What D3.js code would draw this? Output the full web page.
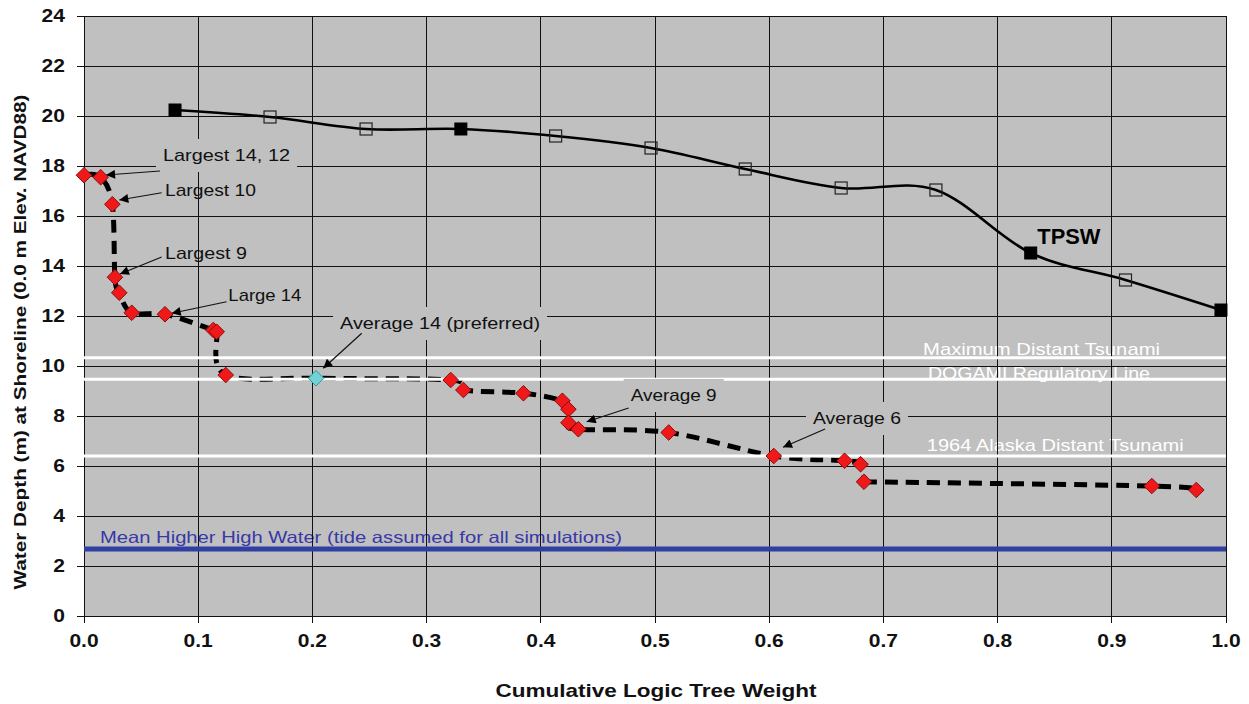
<!DOCTYPE html>
<html><head><meta charset="utf-8">
<script src="https://cdn.jsdelivr.net/npm/d3@7"></script>
<style>
body{margin:0;background:#fff}
svg{display:block}
text{font-family:"Liberation Sans",Arial,Helvetica,sans-serif}
</style>
</head><body>
<svg id="chart" width="1249" height="704"></svg>
<script>
// ---------- data ----------
const xTickValues = [0,0.1,0.2,0.3,0.4,0.5,0.6,0.7,0.8,0.9,1.0];
const xTickLabels = ["0.0","0.1","0.2","0.3","0.4","0.5","0.6","0.7","0.8","0.9","1.0"];
const yTickValues = [0,2,4,6,8,10,12,14,16,18,20,22,24];
const yTickLabels = ["0","2","4","6","8","10","12","14","16","18","20","22","24"];

// scenario results (dashed line), kind: r = scenario, c = preferred
const scenarioX = [0,0.0146,0.0248,0.0271,0.0309,0.0418,0.0709,0.1132,0.1162,0.1241,0.2032,0.3211,0.3322,0.3848,0.4189,0.4242,0.4242,0.4329,0.512,0.604,0.666,0.680,0.683,0.935,0.974];
const scenarioY = [17.63,17.55,16.47,13.55,12.93,12.13,12.07,11.44,11.37,9.64,9.51,9.44,9.04,8.91,8.61,8.27,7.73,7.47,7.34,6.40,6.21,6.07,5.37,5.20,5.04];
const scenarioKind = ["r","r","r","r","r","r","r","r","r","r","c","r","r","r","r","r","r","r","r","r","r","r","r","r","r"];

// TPSW curve
const tpswX = [0.0797,0.1629,0.247,0.330,0.413,0.4965,0.579,0.663,0.746,0.829,0.912,0.9956];
const tpswY = [20.24,19.96,19.48,19.48,19.20,18.72,17.88,17.12,17.04,14.52,13.44,12.24];
const tpswFilled = [true,false,false,true,false,false,false,false,false,true,false,true];

// reference levels
const refNames = ["Maximum Distant Tsunami","DOGAMI Regulatory Line","1964 Alaska Distant Tsunami","Mean Higher High Water (tide assumed for all simulations)"];
const refValues = [10.33, 9.47, 6.40, 2.68];
const refLabelX = [0.7347, 0.739, 0.738, 0.014];
const refLabelY = [10.68, 9.72, 6.84, 3.16];
const refLabelW = [237, 222, 257, 522];

// annotations
const annTexts = ["Largest 14, 12","Largest 10","Largest 9","Large 14","Average 14 (preferred)","Average 9","Average 6"];
const annX = [0.0692,0.0709,0.0709,0.1264,0.2242,0.4787,0.6383];
const annY = [18.44,17.04,14.52,12.84,11.72,8.84,7.92];
const annW = [127,91,82,73,200,86,88];
const annBox = [true,false,false,false,true,true,true];
const arrowTailX = [0.0665,0.068,0.068,0.1249,0.2432,0.4769,0.6489];
const arrowTailY = [17.80,16.93,14.36,12.57,11.31,8.32,7.48];
const arrowHeadX = [0.0193,0.0309,0.0315,0.0768,0.2095,0.4402,0.6121];
const arrowHeadY = [17.64,16.64,13.68,12.11,9.91,7.77,6.75];

// ---------- chart ----------
const svg = d3.select("#chart");
const x = d3.scaleLinear().domain([0,1]).range([84,1226]);
const y = d3.scaleLinear().domain([0,24]).range([616,16]);

function stretch(sel, factor){
  sel.each(function(){
    const w = this.getComputedTextLength();
    d3.select(this).attr("textLength", w*factor).attr("lengthAdjust","spacingAndGlyphs");
  });
}

// plot background
svg.append("rect").attr("x",x(0)).attr("y",y(24)).attr("width",x(1)-x(0)).attr("height",y(0)-y(24)).attr("fill","#c0c0c0");

// reference labels (beneath gridlines)
refNames.forEach((t,i)=>{
  const isBlue = i===3;
  svg.append("text").attr("x",x(refLabelX[i])).attr("y",y(refLabelY[i])).attr("dy","0.36em")
    .attr("font-size", isBlue?16.5:17).attr("fill", isBlue?"#3838a8":"#ffffff")
    .attr("textLength",refLabelW[i]).attr("lengthAdjust","spacingAndGlyphs").text(t);
});

// gridlines
svg.append("g").selectAll("line.gx").data(xTickValues).join("line")
  .attr("x1",d=>x(d)).attr("x2",d=>x(d)).attr("y1",y(24)).attr("y2",y(0)+7)
  .attr("stroke","#111").attr("stroke-width",1).attr("shape-rendering","crispEdges");
svg.append("g").selectAll("line.gy").data(yTickValues).join("line")
  .attr("x1",x(0)-7).attr("x2",x(1)).attr("y1",d=>y(d)).attr("y2",d=>y(d))
  .attr("stroke","#111").attr("stroke-width",1).attr("shape-rendering","crispEdges");

// axis tick labels
const xl = svg.append("g").selectAll("text").data(xTickValues).join("text")
  .attr("x",d=>x(d)).attr("y",y(0)+31).attr("text-anchor","middle")
  .attr("font-size",17.5).attr("font-weight","bold").attr("fill","#111")
  .text((d,i)=>xTickLabels[i]);
stretch(xl,1.2);
const yl = svg.append("g").selectAll("text").data(yTickValues).join("text")
  .attr("x",x(0)-19).attr("y",d=>y(d)).attr("dy","0.36em").attr("text-anchor","end")
  .attr("font-size",17.5).attr("font-weight","bold").attr("fill","#111")
  .text((d,i)=>yTickLabels[i]);
stretch(yl,1.2);

// axis titles
svg.append("text").attr("x",656).attr("y",697).attr("text-anchor","middle")
  .attr("font-size",19).attr("font-weight","bold").attr("fill","#111")
  .attr("textLength",321).attr("lengthAdjust","spacingAndGlyphs")
  .text("Cumulative Logic Tree Weight");
svg.append("text").attr("transform","translate(26,342) rotate(-90)").attr("text-anchor","middle")
  .attr("font-size",16).attr("font-weight","bold").attr("fill","#111")
  .attr("textLength",495).attr("lengthAdjust","spacingAndGlyphs")
  .text("Water Depth (m) at Shoreline (0.0 m Elev. NAVD88)");

// curves (smoothed like the spreadsheet; split where a vertical drop meets a long flat run)
const smooth = d3.line().x(d=>x(d[0])).y(d=>y(d[1])).curve(d3.curveCardinal.tension(0));
const scenarioPts = scenarioX.map((v,i)=>[v,scenarioY[i]]);
const tpswPts = tpswX.map((v,i)=>[v,tpswY[i]]);
const splitAt = 22;
const scenarioPath = smooth(scenarioPts.slice(0,splitAt+1)) + smooth(scenarioPts.slice(splitAt));

svg.append("path").attr("d",scenarioPath).attr("fill","none")
  .attr("stroke","#000").attr("stroke-width",5).attr("stroke-dasharray","13,8");
svg.append("path").attr("d",smooth(tpswPts)).attr("fill","none")
  .attr("stroke","#000").attr("stroke-width",2.6);

// reference lines
refValues.forEach((v,i)=>{
  const isBlue = i===3;
  svg.append("line").attr("x1",x(0)).attr("x2",x(1)).attr("y1",y(v)).attr("y2",y(v))
    .attr("stroke", isBlue?"#2f3fa4":"#ffffff").attr("stroke-width", isBlue?5:3);
});

// annotation boxes, texts, arrows
svg.append("defs").append("marker").attr("id","ah")
  .attr("viewBox","0 0 10 10").attr("refX",10).attr("refY",5)
  .attr("markerWidth",11).attr("markerHeight",9).attr("markerUnits","userSpaceOnUse")
  .attr("orient","auto")
  .append("path").attr("d","M0,0 L10,5 L0,10 Z").attr("fill","#000");

annTexts.forEach((t,i)=>{
  const tx = x(annX[i]), ty = y(annY[i]);
  if(annBox[i]){
    svg.append("rect").attr("x",tx-7).attr("y",ty-16).attr("width",annW[i]+14).attr("height",33)
      .attr("fill","#c0c0c0");
  }
});
annTexts.forEach((t,i)=>{
  svg.append("line").attr("x1",x(arrowTailX[i])).attr("y1",y(arrowTailY[i]))
    .attr("x2",x(arrowHeadX[i])).attr("y2",y(arrowHeadY[i]))
    .attr("stroke","#111").attr("stroke-width",1.2).attr("marker-end","url(#ah)");
  svg.append("text").attr("x",x(annX[i])).attr("y",y(annY[i])).attr("dy","0.36em")
    .attr("font-size",17).attr("fill","#111")
    .attr("textLength",annW[i]).attr("lengthAdjust","spacingAndGlyphs").text(t);
});

// markers
const dsz = 7.8;
svg.append("g").selectAll("path").data(scenarioPts).join("path")
  .attr("d",d=>{const cx=x(d[0]), cy=y(d[1]); return `M${cx},${cy-dsz}L${cx+dsz},${cy}L${cx},${cy+dsz}L${cx-dsz},${cy}Z`;})
  .attr("fill",(d,i)=>scenarioKind[i]==="c"?"#6fd3d6":"#f01818")
  .attr("stroke",(d,i)=>scenarioKind[i]==="c"?"#2e9aa0":"#8a0d0d").attr("stroke-width",1);

const sq = 12;
svg.append("g").selectAll("rect").data(tpswPts).join("rect")
  .attr("x",d=>x(d[0])-sq/2).attr("y",d=>y(d[1])-sq/2).attr("width",sq).attr("height",sq)
  .attr("fill",(d,i)=>tpswFilled[i]?"#000":"none")
  .attr("stroke",(d,i)=>tpswFilled[i]?"#000":"#222").attr("stroke-width",(d,i)=>tpswFilled[i]?1:1.2);

// TPSW label
svg.append("text").attr("x",x(0.8348)).attr("y",y(15.2)).attr("dy","0.36em")
  .attr("font-size",22).attr("font-weight","bold").attr("fill","#000")
  .attr("textLength",63).attr("lengthAdjust","spacingAndGlyphs").text("TPSW");
</script>
</body></html>
